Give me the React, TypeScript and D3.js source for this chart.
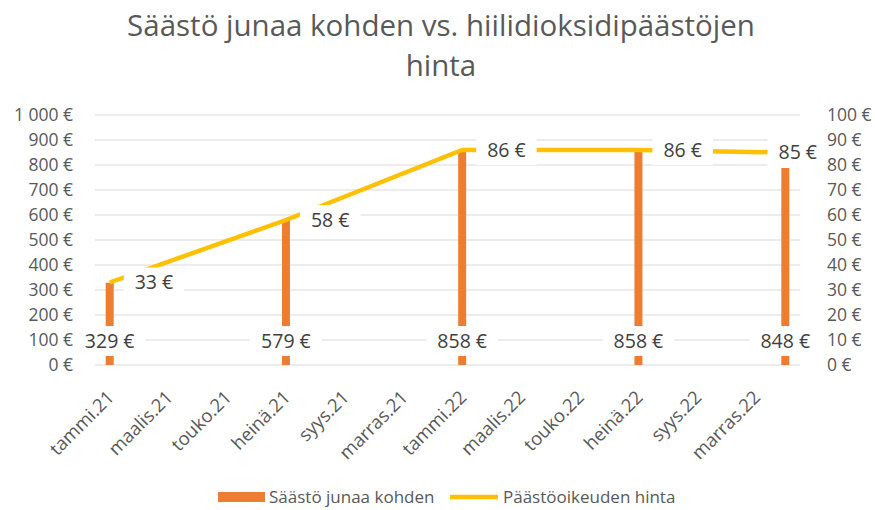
import React from "react";
import * as d3 from "d3";

const monthNames = ["tammi", "helmi", "maalis", "huhti", "touko", "kesä", "heinä", "elo", "syys", "loka", "marras", "joulu"];
const years = ["21", "22"];
const tickLabels = ["tammi.21", "maalis.21", "touko.21", "heinä.21", "syys.21", "marras.21", "tammi.22", "maalis.22", "touko.22", "heinä.22", "syys.22", "marras.22"];
const dates = ["tammi.21", "heinä.21", "tammi.22", "heinä.22", "joulu.22"];
const savings = [329, 579, 858, 858, 788];
const savingsLabels = ["329 €", "579 €", "858 €", "858 €", "848 €"];
const price = [33, 58, 86, 86, 85];
const leftTicks = [0, 100, 200, 300, 400, 500, 600, 700, 800, 900, 1000];
const rightTicks = [0, 10, 20, 30, 40, 50, 60, 70, 80, 90, 100];
const titleLines = ["Säästö junaa kohden vs. hiilidioksidipäästöjen", "hinta"];
const seriesNames = ["Säästö junaa kohden", "Päästöoikeuden hinta"];

const FONT = "'Open Sans', sans-serif";
const fi = d3.formatLocale({ decimal: ",", thousands: "\u00a0", grouping: [3], currency: ["", "\u00a0€"] });
const fmt = fi.format("$,.0f");

let ctx: CanvasRenderingContext2D | null = null;
function textW(s: string, size: number) {
  if (!ctx) ctx = document.createElement("canvas").getContext("2d");
  if (!ctx) return s.length * size * 0.55;
  ctx.font = `${size}px ${FONT}`;
  return ctx.measureText(s).width;
}

export default function App() {
  const W = 875, H = 510;
  const categories = years.flatMap((y) => monthNames.map((m) => `${m}.${y}`));
  const x = d3.scaleBand().domain(categories).range([95, 800]).paddingInner(0).paddingOuter(0);
  const yL = d3.scaleLinear().domain([0, 1000]).range([365, 115]);
  const yR = d3.scaleLinear().domain([0, 100]).range([365, 115]);
  const cx = (d: string) => (x(d) as number) + x.bandwidth() / 2;
  const barW = 8;
  const labelSize = 19.5;
  const axisSize = 17.5;
  const xSize = 18.5;

  const line = d3.line<number>().x((_, i) => cx(dates[i])).y((d) => yR(d));

  const padX = 11, halfH = 15;
  const chartRight = 828;

  return (
    <svg width={W} height={H} style={{ position: "absolute", left: 0, top: 0, background: "#fff" }} fontFamily={FONT}>
      <rect width={W} height={H} fill="#fff" />
      {titleLines.map((t, i) => (
        <text key={i} x={441} y={36 + i * 40} textAnchor="middle" fontSize={29.5} fill="#595959">{t}</text>
      ))}
      {leftTicks.map((t) => (
        <line key={t} x1={95} x2={800} y1={yL(t)} y2={yL(t)} stroke="#D9D9D9" strokeWidth={1} />
      ))}
      {leftTicks.map((t) => (
        <text key={"l" + t} x={73} y={yL(t)} dy="0.35em" textAnchor="end" fontSize={axisSize} fill="#595959">{fmt(t)}</text>
      ))}
      {tickLabels.map((t) => (
        <text key={t} transform={`translate(${cx(t) + 1},${394}) rotate(-45)`} dy="0.35em" textAnchor="end" fontSize={xSize} fill="#595959">{t}</text>
      ))}
      {savings.map((v, i) => (
        <rect key={i} x={cx(dates[i]) - barW / 2} y={yL(v)} width={barW} height={yL(0) - yL(v)} fill="#ED7D31" />
      ))}
      <path d={line(price) || ""} fill="none" stroke="#FFC000" strokeWidth={4.5} />
      {savingsLabels.map((s, i) => {
        const w = textW(s, labelSize) + padX * 2;
        const yc = 341;
        return (
          <g key={"sl" + i}>
            <rect x={cx(dates[i]) - w / 2} y={yc - halfH} width={w} height={halfH * 2} fill="#fff" />
            <text x={cx(dates[i])} y={yc} dy="0.35em" textAnchor="middle" fontSize={labelSize} fill="#404040">{s}</text>
          </g>
        );
      })}
      {price.map((v, i) => {
        const s = fmt(v);
        const w = textW(s, labelSize) + padX * 2;
        const x0 = Math.min(cx(dates[i]) + 14, chartRight - w);
        const yc = yR(v);
        return (
          <g key={"pl" + i}>
            <rect x={x0} y={yc - halfH} width={w} height={halfH * 2} fill="#fff" />
            <text x={x0 + padX} y={yc} dy="0.35em" textAnchor="start" fontSize={labelSize} fill="#404040">{s}</text>
          </g>
        );
      })}
      {rightTicks.map((t) => (
        <text key={"r" + t} x={827} y={yR(t)} dy="0.35em" textAnchor="start" fontSize={axisSize} fill="#595959">{fmt(t)}</text>
      ))}
      <g fontSize={17} fill="#595959">
        <rect x={218} y={492} width={47} height={10} fill="#ED7D31" />
        <text x={269} y={497} dy="0.35em">{seriesNames[0]}</text>
        <line x1={450} x2={498} y1={497} y2={497} stroke="#FFC000" strokeWidth={4.5} />
        <text x={503} y={497} dy="0.35em">{seriesNames[1]}</text>
      </g>
    </svg>
  );
}
